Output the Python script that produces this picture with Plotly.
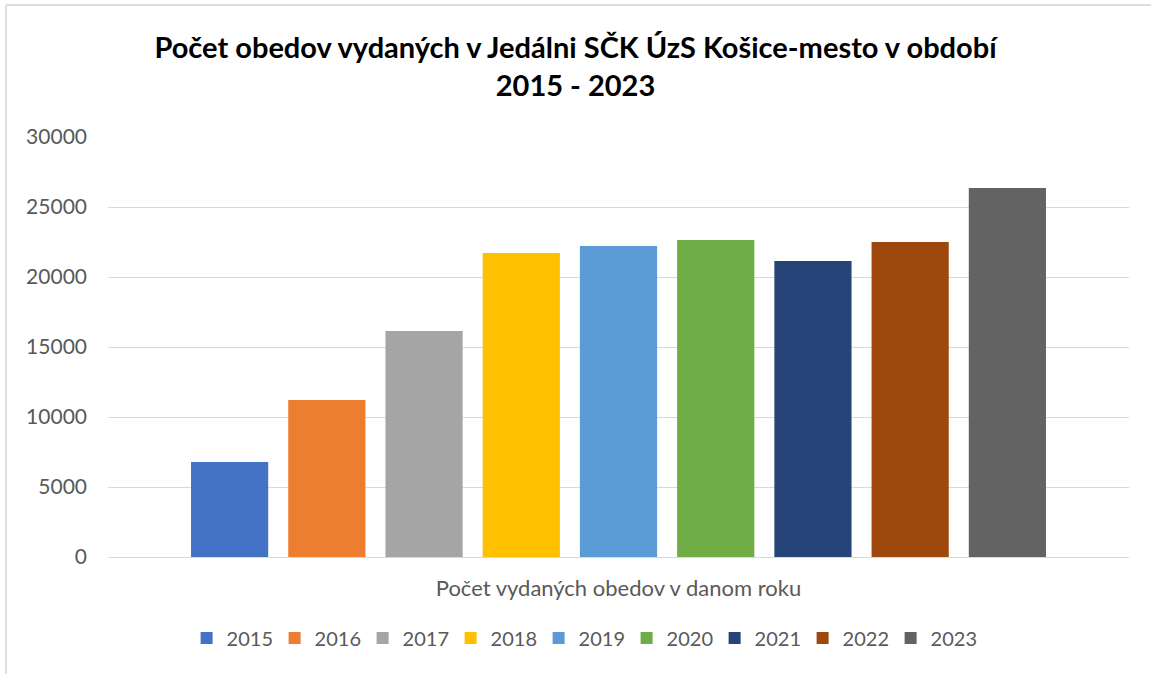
import plotly.graph_objects as go

category = ["Počet vydaných obedov v danom roku"]
years = ["2015", "2016", "2017", "2018", "2019", "2020", "2021", "2022", "2023"]
values = [6790, 11210, 16140, 21710, 22210, 22640, 21140, 22500, 26360]
colors = ["#4472C4", "#ED7D31", "#A5A5A5", "#FFC000", "#5B9BD5",
          "#70AD47", "#264478", "#9E480E", "#636363"]
y_ticks = [0, 5000, 10000, 15000, 20000, 25000, 30000]

FONT = "Lato, 'Open Sans', sans-serif"

fig = go.Figure()
for yr, v, c in zip(years, values, colors):
    fig.add_trace(go.Bar(name=yr, x=category, y=[v], marker_color=c,
                         marker_line_width=0))

fig.update_layout(
    width=1151, height=674,
    paper_bgcolor="white", plot_bgcolor="white",
    font=dict(family=FONT, color="#595959", size=20),
    title=dict(text="<b>Počet obedov vydaných v Jedálni SČK ÚzS Košice-mesto v období<br>2015 - 2023</b>",
               x=0.5, xanchor="center", y=0.914, yanchor="middle",
               font=dict(family=FONT, size=29, color="#000000")),
    margin=dict(l=108, r=22, t=137, b=117),
    barmode="group", bargap=0.143, bargroupgap=0.206,
    showlegend=True,
    legend=dict(orientation="h", x=0.077, xanchor="left", y=-0.193, yanchor="middle",
                font=dict(family=FONT, size=20, color="#595959"),
                itemwidth=30, traceorder="normal",
                entrywidth=43, entrywidthmode="pixels"),
    xaxis=dict(showgrid=False, showline=False, ticks="", ticklabelstandoff=16,
               tickfont=dict(family=FONT, size=22, color="#595959")),
    yaxis=dict(range=[0, 30000], tickvals=y_ticks, ticktext=[str(t) for t in y_ticks],
               showgrid=True, gridcolor="#d9d9d9", gridwidth=1,
               zeroline=True, zerolinecolor="#d9d9d9", zerolinewidth=1,
               showline=False, ticks="", ticklabelstandoff=20,
               tickfont=dict(family=FONT, size=21, color="#595959")),
    shapes=[
        dict(type="line", xref="paper", yref="paper", x0=-0.0999, x1=1.03,
             y0=1.3143, y1=1.3143, line=dict(color="#dedede", width=2)),
        dict(type="line", xref="paper", yref="paper", x0=-0.0999, x1=-0.0999,
             y0=1.3143, y1=-0.3, line=dict(color="#dedede", width=2)),
    ],
)

fig.write_html("out.html", config={"displayModeBar": False},
               post_script="document.body.style.margin='0';")
